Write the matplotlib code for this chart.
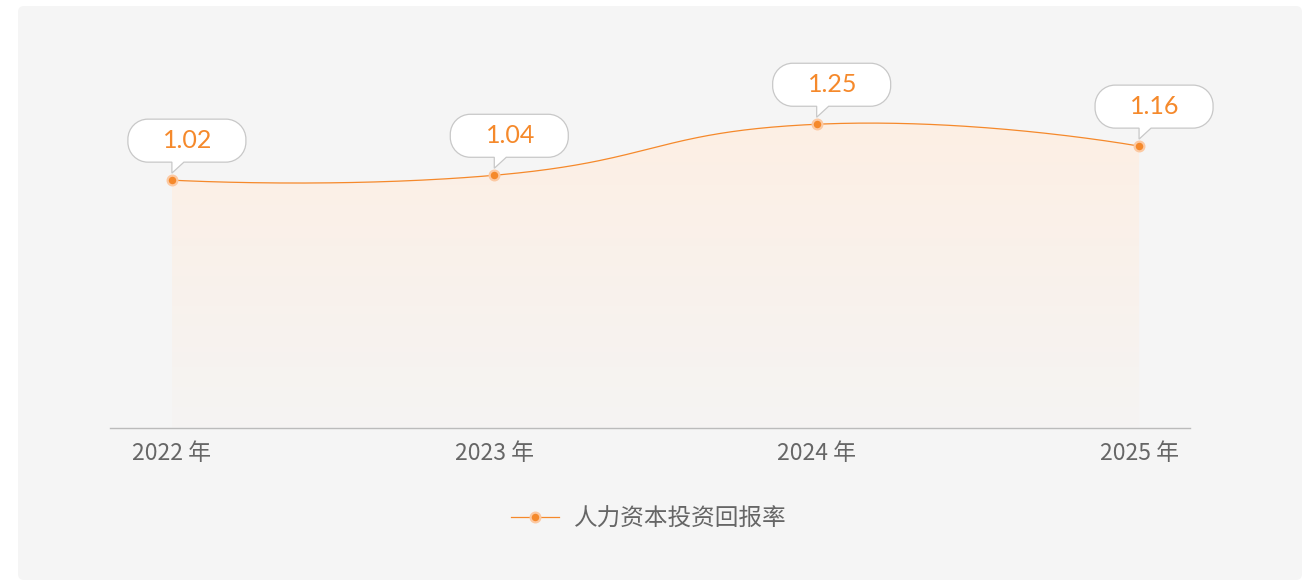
import numpy as np
import matplotlib
matplotlib.use("Agg")
import matplotlib.pyplot as plt
from matplotlib.path import Path
from matplotlib.patches import PathPatch, FancyBboxPatch
from matplotlib.transforms import IdentityTransform
from matplotlib.lines import Line2D

plt.rcParams['font.family'] = ['Noto Sans CJK SC', 'DejaVu Sans']

# Data
years = ["2022 年", "2023 年", "2024 年", "2025 年"]
roi = [1.02, 1.04, 1.25, 1.16]
series_name = "人力资本投资回报率"

ORANGE = "#f5892b"
RING = "#fcc9a2"
TEXT_GRAY = "#666666"
W, H = 1308, 582

fig = plt.figure(figsize=(W / 100, H / 100), dpi=100)
fig.patch.set_facecolor("white")

# light grey card behind everything
panel = FancyBboxPatch((18, 2), 1284, 574, boxstyle="round,pad=0,rounding_size=6",
                       facecolor="#f5f5f5", edgecolor="none",
                       transform=IdentityTransform(), zorder=-10)
fig.add_artist(panel)

ax = fig.add_axes([110 / W, (H - 428) / H, 1080 / W, (428 - 63.5) / H])
ax.patch.set_alpha(0)
ax.set_xlim(-0.192, 3.158)
ax.set_ylim(0, 1.5)
for s in ["top", "right", "left"]:
    ax.spines[s].set_visible(False)
ax.spines["bottom"].set_color("#bbbbbb")
ax.spines["bottom"].set_linewidth(1)
ax.set_yticks([])
xs = np.arange(len(roi))
ax.set_xticks(xs)
ax.set_xticklabels(years, fontsize=16.5, color=TEXT_GRAY)
ax.tick_params(axis="x", length=0, pad=10)

# smooth line (bezier control points, smoothness 0.5), built in pixel space
smooth = 0.5
pts = ax.transData.transform(np.column_stack([xs, roi]))
n = len(pts)


def ctrl(i):
    if i == 0 or i == n - 1:
        return pts[i], pts[i]
    prev, cur, nxt = pts[i - 1], pts[i], pts[i + 1]
    v = nxt - prev
    d0 = np.hypot(*(cur - prev))
    d1 = np.hypot(*(nxt - cur))
    r = d1 / (d0 + d1)
    return cur - v * smooth * (1 - r), cur + v * smooth * r


curve = []
t = np.linspace(0, 1, 80)[:, None]
for i in range(n - 1):
    p0, p3 = pts[i], pts[i + 1]
    p1 = ctrl(i)[1]
    p2 = ctrl(i + 1)[0]
    seg = ((1 - t) ** 3) * p0 + 3 * ((1 - t) ** 2) * t * p1 + 3 * (1 - t) * t ** 2 * p2 + t ** 3 * p3
    curve.append(seg if i == 0 else seg[1:])
curve = ax.transData.inverted().transform(np.vstack(curve))
cx, cy = curve[:, 0], curve[:, 1]

# gradient area under the curve
top_c = np.array([253, 239, 228]) / 255
bot_c = np.array([245, 244, 243]) / 255
g = np.linspace(0, 1, 256)[:, None]
grad = (top_c * (1 - g) + bot_c * g)[:, None, :]
ymax = max(roi)
img = ax.imshow(grad, extent=[xs[0], xs[-1], 0, ymax], aspect="auto",
                origin="upper", zorder=1, interpolation="bilinear")
clip = Path(np.vstack([curve, [[xs[-1], 0], [xs[0], 0]]]))
img.set_clip_path(clip, transform=ax.transData)
ax.set_xlim(-0.192, 3.158)
ax.set_ylim(0, 1.5)

ax.plot(cx, cy, color=ORANGE, lw=0.9, zorder=3)
ax.plot(xs, roi, linestyle="none", marker="o", ms=7, mfc=ORANGE, mec=RING,
        mew=1.6, zorder=5)

# value callouts
k = 0.5523
r = 20
for x, v, (px, py) in zip(xs, roi, pts):
    L, R, B, T = px - 44, px + 74, py + 18, py + 61
    verts = [(L + r, B), (px, B), (px, py + 7), (px + 12, B), (R - r, B),
             (R - r + k * r, B), (R, B + r - k * r), (R, B + r),
             (R, T - r),
             (R, T - r + k * r), (R - r + k * r, T), (R - r, T),
             (L + r, T),
             (L + r - k * r, T), (L, T - r + k * r), (L, T - r),
             (L, B + r),
             (L, B + r - k * r), (L + r - k * r, B), (L + r, B),
             (L + r, B)]
    codes = ([Path.MOVETO] + [Path.LINETO] * 4 + [Path.CURVE4] * 3 + [Path.LINETO]
             + [Path.CURVE4] * 3 + [Path.LINETO] + [Path.CURVE4] * 3 + [Path.LINETO]
             + [Path.CURVE4] * 3 + [Path.CLOSEPOLY])
    bubble = PathPatch(Path(verts, codes), facecolor="white", edgecolor="#c8c8c8",
                       lw=0.9, transform=IdentityTransform(), zorder=6, clip_on=False)
    ax.add_artist(bubble)
    ax.annotate(f"{v:.2f}", (x, v), xytext=(16, 40), textcoords="offset pixels",
                ha="center", va="center", fontsize=18, color=ORANGE,
                family=["Lato", "DejaVu Sans"], zorder=7, annotation_clip=False)

handle = Line2D([], [], color=ORANGE, lw=0.9, marker="o", ms=7, mfc=ORANGE,
                mec=RING, mew=1.6)
fig.legend([handle], [series_name], loc="center", bbox_to_anchor=(649 / W, 1 - 519 / H),
           frameon=False, fontsize=17, labelcolor=TEXT_GRAY, handlelength=2.0,
           handletextpad=0.65)

fig.savefig("out.png", dpi=100, facecolor="white")
